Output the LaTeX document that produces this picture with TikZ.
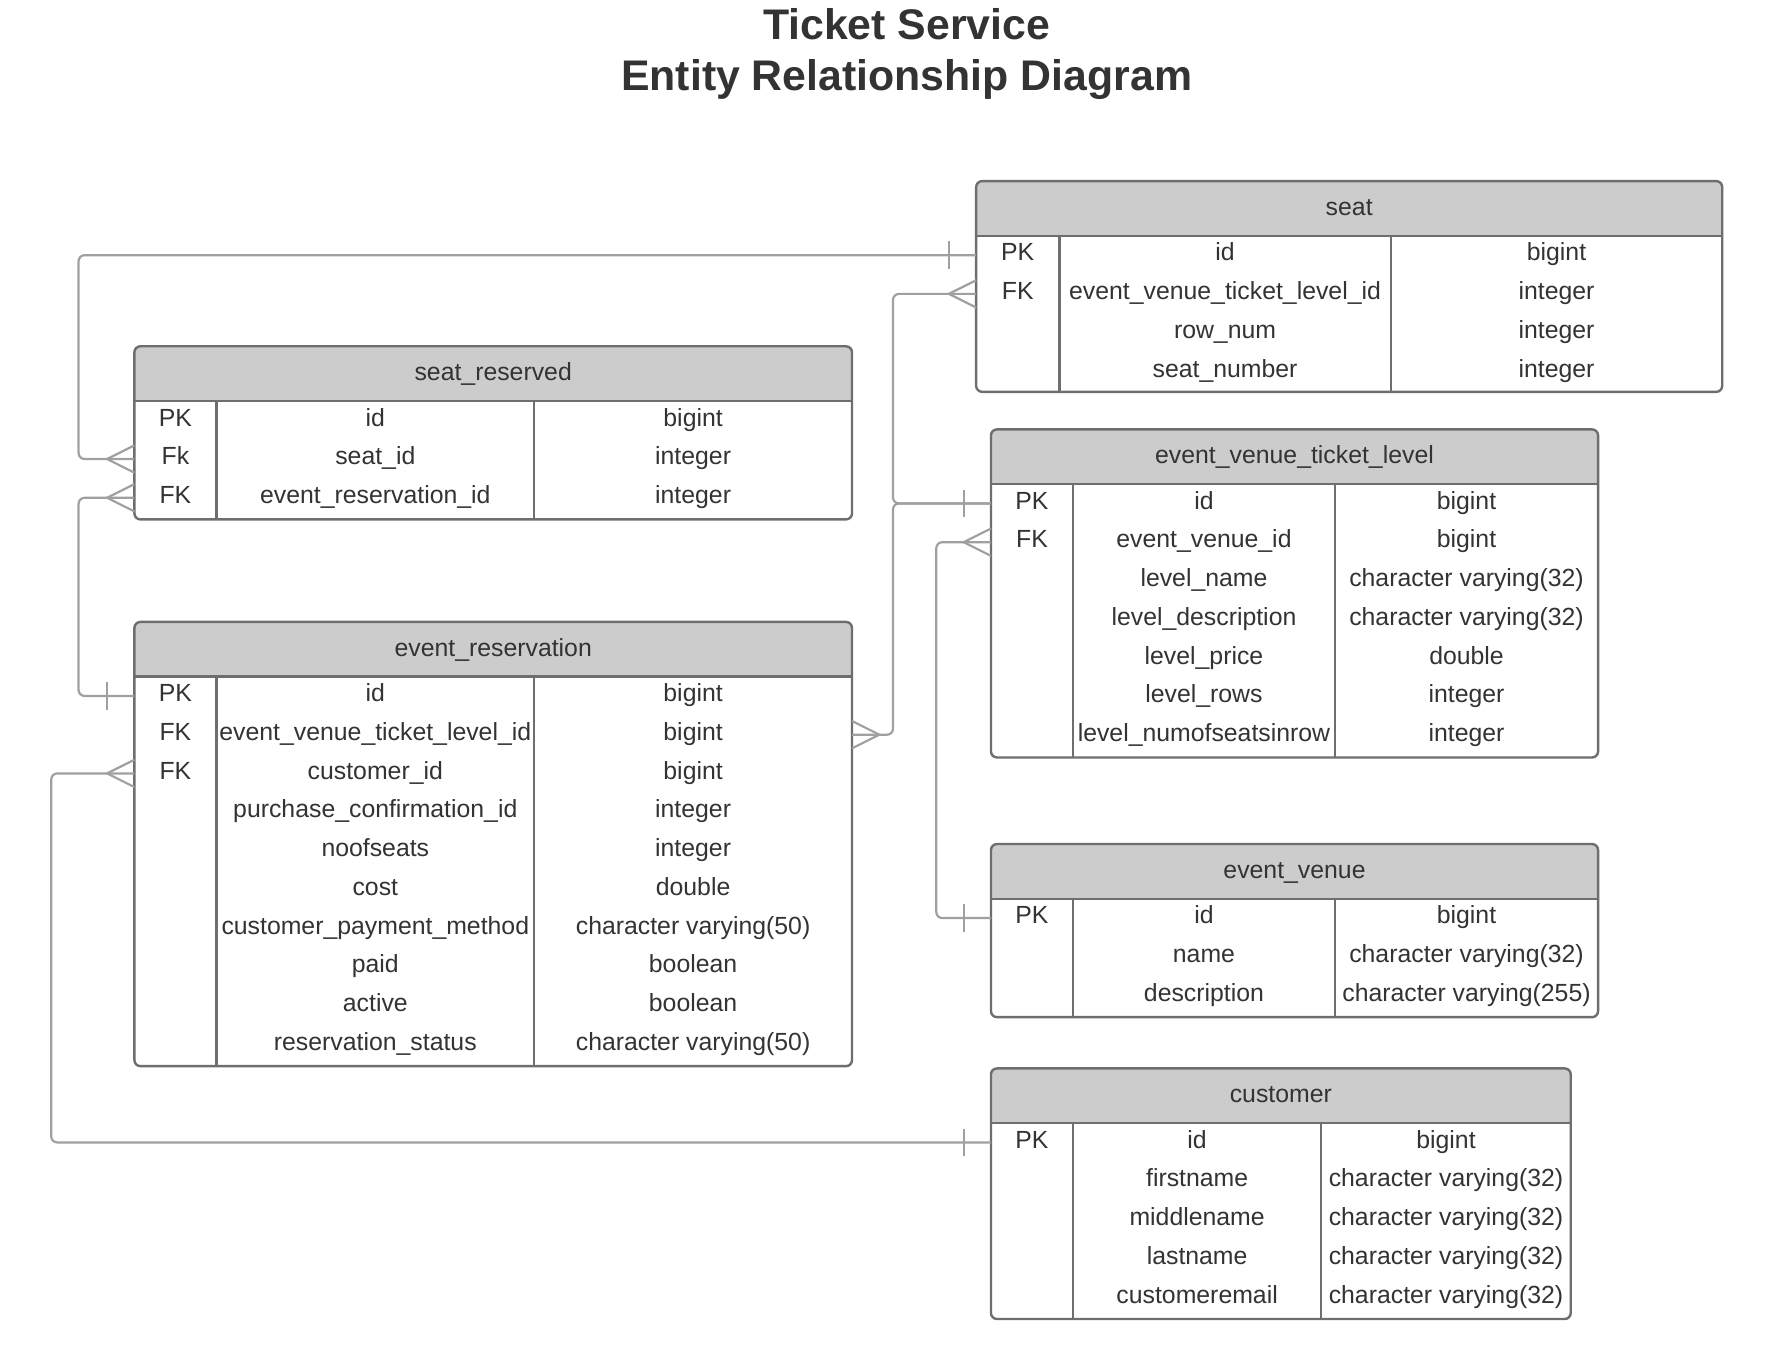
\documentclass[tikz,border=0pt]{standalone}
\usepackage{fontspec}
\setmainfont{Liberation Sans}
\usetikzlibrary{positioning,calc,fit}

\definecolor{inkgray}{HTML}{333333}
\definecolor{boxgray}{HTML}{6E6E6E}
\definecolor{headgray}{HTML}{CCCCCC}
\definecolor{linkgray}{HTML}{A0A0A0}

\begin{document}
\begin{tikzpicture}[x=0.02cm, y=-0.02cm,
    tablebox/.style={draw=boxgray, line width=1.2pt, rounded corners=3pt, fill=white, inner sep=0pt, outer sep=0pt,
      path picture={\fill[headgray, sharp corners] (path picture bounding box.north west) rectangle ($(path picture bounding box.north east)+(0,48)$);}},
    rule/.style={draw=boxgray, line width=1.2pt},
    cell/.style={text=inkgray, font=\fontsize{12.4}{15}\selectfont, inner sep=0pt, text height=8.7pt, text depth=3pt},
    heading/.style={text=inkgray, font=\fontsize{21.4}{26}\selectfont\bfseries, inner sep=0pt, text height=15.4pt, text depth=0pt},
    link/.style={draw=linkgray, line width=1.1pt, rounded corners=3pt},
    foot/.style={draw=linkgray, line width=1.1pt}]

    \useasboundingbox (0,0) rectangle (1568,1194);

    % Title
    \node (title) [heading] at (796,21) {Ticket Service};
    \node (subtitle) [heading] at (796,66) {Entity Relationship Diagram};

    % seat
    \node (seat) [tablebox, fit={(857,159) (1512,344)}] {};
    \draw[rule] ($(seat.north west)+(0,48)$) -- ($(seat.north east)+(0,48)$);
    \draw[rule] (930,207) -- (930,344);
    \draw[rule] (1221,207) -- (1221,344);
    \node (seat-title) [cell] at ($(seat.north)+(0,25)$) {seat};
    \foreach \k/\n/\t [count=\i] in {PK/id/bigint, FK/event\_venue\_ticket\_level\_id/integer,
        /row\_num/integer, /seat\_number/integer}{
      \node (seat-k\i) [cell] at (893.5, {190+34*\i}) {\k};
      \node (seat-n\i) [cell] at (1075.5, {190+34*\i}) {\n};
      \node (seat-t\i) [cell] at (1366.5, {190+34*\i}) {\t};
    }

    % seat_reserved
    \node (seatres) [tablebox, fit={(118,304) (748,456)}] {};
    \draw[rule] ($(seatres.north west)+(0,48)$) -- ($(seatres.north east)+(0,48)$);
    \draw[rule] (190,352) -- (190,456);
    \draw[rule] (469,352) -- (469,456);
    \node (seatres-title) [cell] at ($(seatres.north)+(0,25)$) {seat\_reserved};
    \foreach \k/\n/\t [count=\i] in {PK/id/bigint, Fk/seat\_id/integer, FK/event\_reservation\_id/integer}{
      \node (seatres-k\i) [cell] at (154, {335+34*\i}) {\k};
      \node (seatres-n\i) [cell] at (329.5, {335+34*\i}) {\n};
      \node (seatres-t\i) [cell] at (608.5, {335+34*\i}) {\t};
    }

    % event_reservation
    \node (evres) [tablebox, fit={(118,546) (748,936)}] {};
    \draw[rule] ($(evres.north west)+(0,48)$) -- ($(evres.north east)+(0,48)$);
    \draw[rule] (190,594) -- (190,936);
    \draw[rule] (469,594) -- (469,936);
    \node (evres-title) [cell] at ($(evres.north)+(0,25)$) {event\_reservation};
    \foreach \k/\n/\t [count=\i] in {PK/id/bigint, FK/event\_venue\_ticket\_level\_id/bigint,
        FK/customer\_id/bigint, /purchase\_confirmation\_id/integer, /noofseats/integer,
        /cost/double, /customer\_payment\_method/character varying(50), /paid/boolean,
        /active/boolean, /reservation\_status/character varying(50)}{
      \node (evres-k\i) [cell] at (154, {577+34*\i}) {\k};
      \node (evres-n\i) [cell] at (329.5, {577+34*\i}) {\n};
      \node (evres-t\i) [cell] at (608.5, {577+34*\i}) {\t};
    }

    % event_venue_ticket_level
    \node (evtl) [tablebox, fit={(870,377) (1403,665)}] {};
    \draw[rule] ($(evtl.north west)+(0,48)$) -- ($(evtl.north east)+(0,48)$);
    \draw[rule] (942,425) -- (942,665);
    \draw[rule] (1172,425) -- (1172,665);
    \node (evtl-title) [cell] at ($(evtl.north)+(0,25)$) {event\_venue\_ticket\_level};
    \foreach \k/\n/\t [count=\i] in {PK/id/bigint, FK/event\_venue\_id/bigint,
        /level\_name/character varying(32), /level\_description/character varying(32),
        /level\_price/double, /level\_rows/integer, /level\_numofseatsinrow/integer}{
      \node (evtl-k\i) [cell] at (906, {408+34*\i}) {\k};
      \node (evtl-n\i) [cell] at (1057, {408+34*\i}) {\n};
      \node (evtl-t\i) [cell] at (1287.5, {408+34*\i}) {\t};
    }

    % event_venue
    \node (venue) [tablebox, fit={(870,741) (1403,893)}] {};
    \draw[rule] ($(venue.north west)+(0,48)$) -- ($(venue.north east)+(0,48)$);
    \draw[rule] (942,789) -- (942,893);
    \draw[rule] (1172,789) -- (1172,893);
    \node (venue-title) [cell] at ($(venue.north)+(0,25)$) {event\_venue};
    \foreach \k/\n/\t [count=\i] in {PK/id/bigint, /name/character varying(32),
        /description/character varying(255)}{
      \node (venue-k\i) [cell] at (906, {772+34*\i}) {\k};
      \node (venue-n\i) [cell] at (1057, {772+34*\i}) {\n};
      \node (venue-t\i) [cell] at (1287.5, {772+34*\i}) {\t};
    }

    % customer
    \node (cust) [tablebox, fit={(870,938) (1379,1158)}] {};
    \draw[rule] ($(cust.north west)+(0,48)$) -- ($(cust.north east)+(0,48)$);
    \draw[rule] (942,986) -- (942,1158);
    \draw[rule] (1160,986) -- (1160,1158);
    \node (cust-title) [cell] at ($(cust.north)+(0,25)$) {customer};
    \foreach \k/\n/\t [count=\i] in {PK/id/bigint, /firstname/character varying(32),
        /middlename/character varying(32), /lastname/character varying(32),
        /customeremail/character varying(32)}{
      \node (cust-k\i) [cell] at (906, {969+34*\i}) {\k};
      \node (cust-n\i) [cell] at (1051, {969+34*\i}) {\n};
      \node (cust-t\i) [cell] at (1269.5, {969+34*\i}) {\t};
    }

    % lanes for the connectors
    \coordinate (laneA) at (69,0);
    \coordinate (laneB) at (784,0);
    \coordinate (laneC) at (822,0);
    \coordinate (laneD) at (45,0);

    % seat.id -> seat_reserved.seat_id
    \coordinate (one1) at (seat.west |- seat-k1);
    \coordinate (many1) at (seatres.west |- seatres-k2);
    \draw[link] (one1) -- (laneA |- one1) -- (laneA |- many1) -- (many1);
    \draw[foot] ($(one1)+(-24,-12)$) -- ($(one1)+(-24,12)$);
    \draw[foot] ($(many1)+(0,-12)$) -- ($(many1)+(-24,0)$) -- ($(many1)+(0,12)$);

    % event_reservation.id -> seat_reserved.event_reservation_id
    \coordinate (one2) at (evres.west |- evres-k1);
    \coordinate (many2) at (seatres.west |- seatres-k3);
    \draw[link] (many2) -- (laneA |- many2) -- (laneA |- one2) -- (one2);
    \draw[foot] ($(one2)+(-24,-12)$) -- ($(one2)+(-24,12)$);
    \draw[foot] ($(many2)+(0,-12)$) -- ($(many2)+(-24,0)$) -- ($(many2)+(0,12)$);

    % event_venue_ticket_level.id -> event_reservation / seat
    \coordinate (one3) at (evtl.west |- evtl-k1);
    \coordinate (many3) at (evres.east |- evres-k2);
    \coordinate (many4) at (seat.west |- seat-k2);
    \draw[link] (many3) -- (laneB |- many3) -- (laneB |- one3) -- (one3);
    \draw[link] (many4) -- (laneB |- many4) -- (laneB |- one3) -- (one3);
    \draw[foot] ($(one3)+(-24,-12)$) -- ($(one3)+(-24,12)$);
    \draw[foot] ($(many3)+(0,-12)$) -- ($(many3)+(24,0)$) -- ($(many3)+(0,12)$);
    \draw[foot] ($(many4)+(0,-12)$) -- ($(many4)+(-24,0)$) -- ($(many4)+(0,12)$);

    % event_venue.id -> event_venue_ticket_level.event_venue_id
    \coordinate (one5) at (venue.west |- venue-k1);
    \coordinate (many5) at (evtl.west |- evtl-k2);
    \draw[link] (many5) -- (laneC |- many5) -- (laneC |- one5) -- (one5);
    \draw[foot] ($(one5)+(-24,-12)$) -- ($(one5)+(-24,12)$);
    \draw[foot] ($(many5)+(0,-12)$) -- ($(many5)+(-24,0)$) -- ($(many5)+(0,12)$);

    % customer.id -> event_reservation.customer_id
    \coordinate (one6) at (cust.west |- cust-k1);
    \coordinate (many6) at (evres.west |- evres-k3);
    \draw[link] (many6) -- (laneD |- many6) -- (laneD |- one6) -- (one6);
    \draw[foot] ($(one6)+(-24,-12)$) -- ($(one6)+(-24,12)$);
    \draw[foot] ($(many6)+(0,-12)$) -- ($(many6)+(-24,0)$) -- ($(many6)+(0,12)$);
\end{tikzpicture}
\end{document}
